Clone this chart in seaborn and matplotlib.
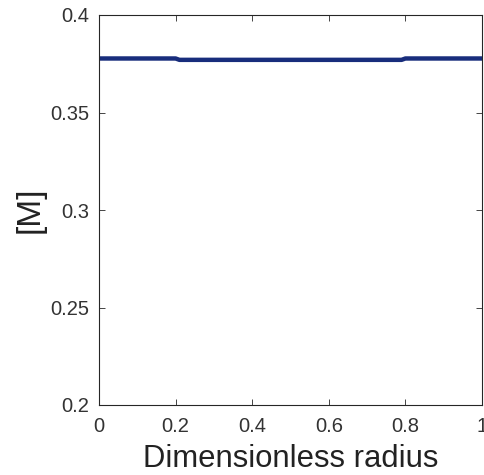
import matplotlib
matplotlib.use("Agg")
import matplotlib.pyplot as plt
import seaborn as sns
import pandas as pd

radius = [0.0, 0.2, 0.21, 0.79, 0.8, 1.0]
conc = [0.3777, 0.3777, 0.3770, 0.3770, 0.3777, 0.3777]
xticks = [0, 0.2, 0.4, 0.6, 0.8, 1]
xtick_labels = ["0", "0.2", "0.4", "0.6", "0.8", "1"]
yticks = [0.2, 0.25, 0.3, 0.35, 0.4]
ytick_labels = ["0.2", "0.25", "0.3", "0.35", "0.4"]

sns.set_style("white")
plt.rcParams['font.family'] = ['Liberation Sans', 'DejaVu Sans']

df = pd.DataFrame({"r": radius, "c": conc})
fig = plt.figure(figsize=(4.85, 4.75), dpi=100)
ax = fig.add_axes([99/485, 1-405/475, (482-99)/485, (405-15)/475])
sns.lineplot(data=df, x="r", y="c", ax=ax, color="#182d7c", linewidth=3.2)
ax.set_xlim(0, 1)
ax.set_ylim(0.2, 0.4)
ax.set_xticks(xticks)
ax.set_xticklabels(xtick_labels)
ax.set_yticks(yticks)
ax.set_yticklabels(ytick_labels)
ax.tick_params(direction="in", length=4, width=0.6, colors="#262626", labelsize=14.5,
               top=True, right=True, bottom=True, left=True, labelcolor="#333333")
ax.tick_params(axis="x", pad=9)
ax.tick_params(axis="y", pad=7)
for s in ax.spines.values():
    s.set_visible(True)
    s.set_color("#262626")
    s.set_linewidth(0.8)
ax.set_xlabel("Dimensionless radius", fontsize=22.3, color="#222222", labelpad=5.5)
ax.set_ylabel("[M]", fontsize=24, color="#222222", labelpad=3)
fig.savefig("out.png", dpi=100)
